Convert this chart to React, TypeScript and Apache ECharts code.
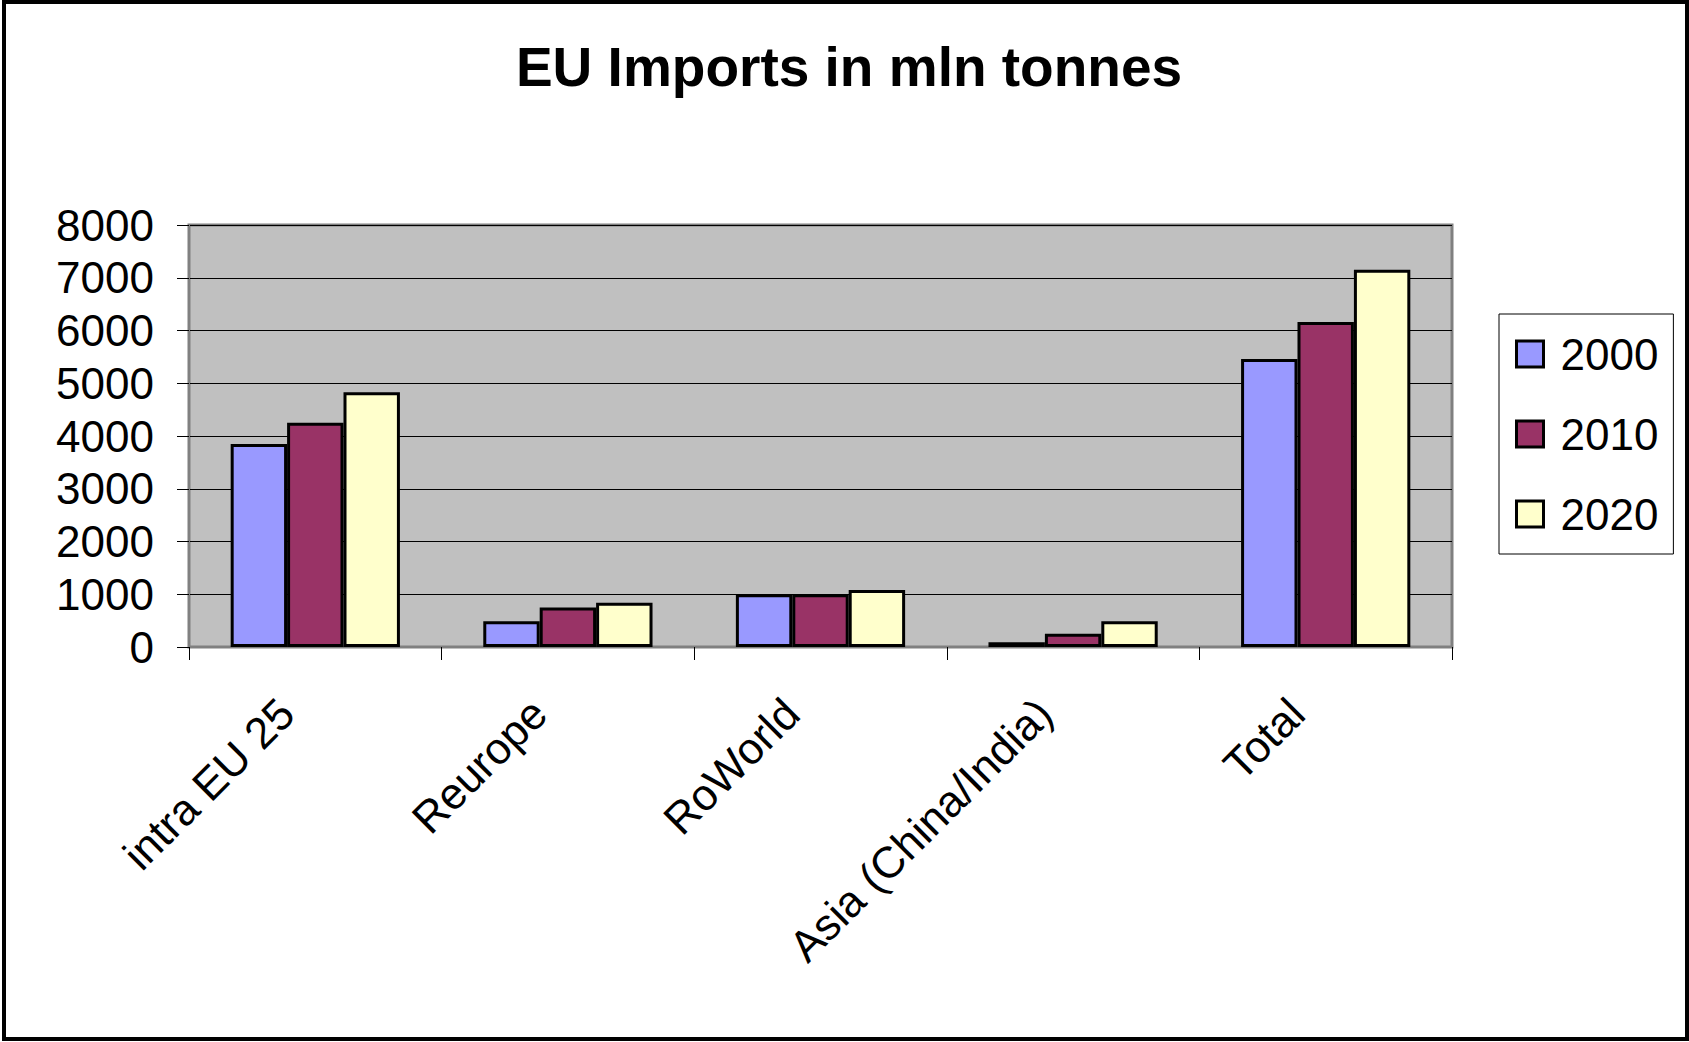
import React, { useEffect, useRef } from "react";
import * as echarts from "echarts";

const categories = ["intra EU 25", "Reurope", "RoWorld", "Asia (China/India)", "Total"];
const seriesNames = ["2000", "2010", "2020"];
const values2000 = [3850, 490, 1000, 90, 5460];
const values2010 = [4250, 750, 1000, 250, 6160];
const values2020 = [4830, 840, 1080, 490, 7150];
const seriesColors = ["#9999FF", "#993366", "#FFFFCC"];
const titleText = "EU Imports in mln tonnes";

const FONT = "'Liberation Sans', Arial, sans-serif";

export default function App() {
  const ref = useRef<HTMLDivElement>(null);
  useEffect(() => {
    if (!ref.current) return;
    const chart = echarts.init(ref.current, undefined, { renderer: "svg" });
    const data = [values2000, values2010, values2020];
    chart.setOption({
      animation: false,
      backgroundColor: "#ffffff",
      title: {
        text: titleText,
        left: 844,
        textAlign: "center",
        top: 34,
        textStyle: { fontFamily: FONT, fontSize: 55, fontWeight: "bold", color: "#000" },
      },
      legend: {
        orient: "vertical",
        left: 1499,
        top: 314,
        padding: [18, 15, 18, 16],
        itemGap: 36,
        itemWidth: 27,
        itemHeight: 26,
        backgroundColor: "#ffffff",
        borderColor: "#000000",
        borderWidth: 1,
        borderRadius: 0,
        icon: "rect",
        itemStyle: { borderColor: "#000", borderWidth: 3 },
        textStyle: { fontFamily: FONT, fontSize: 44, lineHeight: 44, color: "#000", padding: [0, 0, 0, 12] },
        data: seriesNames,
      },
      grid: {
        left: 189,
        right: 237,
        top: 225,
        bottom: 395,
        show: true,
        backgroundColor: "#C0C0C0",
        borderColor: "#808080",
        borderWidth: 3,
      },
      xAxis: {
        type: "category",
        data: categories,
        axisLine: { show: true, lineStyle: { color: "#808080", width: 2 } },
        axisTick: { show: true, length: 13, lineStyle: { color: "#000", width: 1 } },
        axisLabel: {
          interval: 0,
          rotate: 45,
          margin: 30,
          padding: [0, 41, 0, 0],
          fontFamily: FONT,
          fontSize: 44,
          color: "#000",
        },
      },
      yAxis: {
        type: "value",
        min: 0,
        max: 8000,
        interval: 1000,
        axisLine: { show: true, lineStyle: { color: "#808080", width: 2 } },
        axisTick: { show: true, length: 12, lineStyle: { color: "#000", width: 1 } },
        axisLabel: {
          margin: 35,
          fontFamily: FONT,
          fontSize: 44,
          color: "#000",
          formatter: (v: number) => String(v),
        },
        splitLine: { show: true, lineStyle: { color: "#000", width: 1 } },
      },
      series: seriesNames.map((name, i) => ({
        name,
        type: "bar",
        data: data[i],
        barGap: "0%",
        barCategoryGap: "33%",
        itemStyle: { color: seriesColors[i], borderColor: "#000", borderWidth: 3 },
      })),
      graphic: [
        {
          type: "rect",
          shape: { x: 4, y: 2, width: 1683, height: 1037 },
          style: { fill: "none", stroke: "#000", lineWidth: 4 },
          silent: true,
          z: 100,
        },
      ],
    });
    return () => chart.dispose();
  }, []);
  return (
    <div
      ref={ref}
      style={{ position: "fixed", left: 0, top: 0, width: 1689, height: 1042 }}
    />
  );
}
